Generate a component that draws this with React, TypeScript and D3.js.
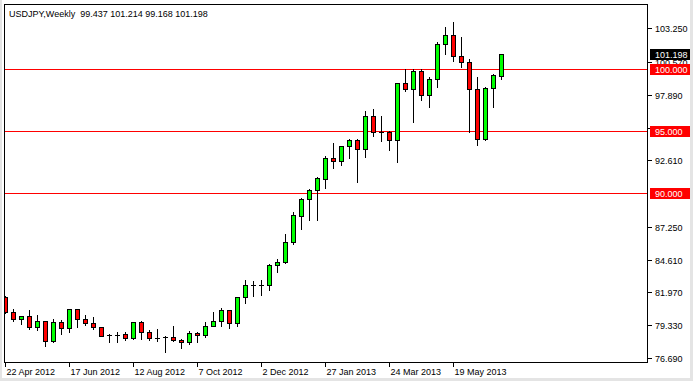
import React, { useEffect } from 'react';
import * as d3 from 'd3';

const W = 693;
const H = 381;

const symbolTitle = 'USDJPY,Weekly';
const startWeek = new Date(2012, 3, 22);

const opens = [81.61, 80.40, 79.84, 80.08, 79.20, 79.68, 78.09, 79.60, 79.11, 80.64, 79.84, 79.52, 79.20, 78.52, 78.53, 78.63, 78.28, 79.60, 78.82, 78.30, 78.39, 78.39, 78.17, 77.99, 78.74, 78.55, 79.28, 79.68, 80.56, 79.52, 81.61, 82.53, 82.55, 82.54, 84.15, 84.39, 86.00, 88.17, 89.49, 90.22, 91.15, 92.79, 92.57, 93.78, 94.26, 93.52, 96.19, 94.89, 94.88, 94.29, 98.85, 98.39, 99.81, 97.86, 99.15, 101.99, 102.71, 101.05, 100.51, 98.34, 94.32, 98.42, 99.437];
const highs = [81.71, 80.64, 80.10, 80.59, 80.18, 79.70, 79.84, 79.78, 80.66, 80.66, 80.18, 80.00, 79.22, 78.66, 78.79, 78.79, 79.62, 79.70, 78.92, 79.03, 78.50, 79.30, 78.25, 78.90, 78.76, 79.57, 80.40, 80.72, 80.58, 81.63, 82.94, 82.86, 82.94, 84.26, 84.69, 86.70, 88.45, 89.62, 90.27, 91.31, 93.00, 94.05, 93.79, 94.34, 94.34, 96.60, 96.76, 96.19, 95.01, 98.86, 99.95, 99.95, 99.95, 99.33, 102.17, 103.38, 103.78, 102.57, 100.76, 99.36, 98.50, 99.57, 101.214];
const lows = [80.35, 79.65, 79.44, 79.03, 78.98, 77.63, 77.99, 78.66, 78.79, 79.20, 79.36, 79.03, 78.44, 77.99, 77.99, 78.12, 78.20, 78.25, 78.17, 78.04, 77.15, 78.04, 77.51, 77.83, 77.99, 78.42, 79.26, 79.26, 79.11, 79.26, 81.13, 81.66, 81.74, 82.14, 83.59, 84.31, 85.84, 87.08, 87.83, 87.83, 90.35, 91.99, 92.20, 92.79, 90.83, 92.90, 94.59, 94.21, 93.46, 92.52, 98.23, 95.74, 97.48, 96.92, 98.55, 101.21, 100.62, 100.16, 94.93, 93.81, 94.24, 96.94, 99.168];
const closes = [80.40, 79.84, 80.08, 79.20, 79.68, 78.09, 79.60, 79.11, 80.64, 79.84, 79.52, 79.16, 78.50, 78.48, 78.57, 78.28, 79.60, 78.82, 78.28, 78.32, 78.28, 78.12, 77.99, 78.74, 78.55, 79.28, 79.68, 80.56, 79.52, 81.61, 82.60, 82.55, 82.53, 84.21, 84.42, 86.03, 88.23, 89.49, 90.22, 91.18, 92.79, 92.55, 93.78, 94.26, 93.52, 96.19, 94.88, 94.87, 94.29, 98.85, 98.39, 99.81, 97.86, 99.15, 101.99, 102.71, 101.05, 100.51, 98.34, 94.32, 98.42, 99.47, 101.198];

const xTickLabels = ['22 Apr 2012', '17 Jun 2012', '12 Aug 2012', '7 Oct 2012', '2 Dec 2012', '27 Jan 2013', '24 Mar 2013', '19 May 2013'];
const xTickEvery = 8;
const yTicks = [103.25, 100.57, 97.89, 95.25, 92.61, 87.25, 84.61, 81.97, 79.33, 76.69];
const levelLines = [100, 95, 90];

const FONT = '"Liberation Sans", Arial, sans-serif';

export default function App() {
  useEffect(() => {
    document.body.style.margin = '0';
    document.body.style.background = '#ffffff';
  }, []);

  const plotL = 4, plotR = 648, plotT = 4, plotB = 362;
  const n = opens.length;
  const dates = d3.range(n).map((i) => d3.timeWeek.offset(startWeek, i));

  const x = d3.scaleLinear().domain([0, n - 1]).range([5.5, 5.5 + 8 * (n - 1)]);
  const y = d3.scaleLinear().domain([76.371, 105.207]).range([plotB, plotT]);
  const fmt = d3.format('.3f');
  const snap = (v: number) => Math.round(v) + 0.5;

  const lastClose = closes[n - 1];

  return (
    <svg width={W} height={H} style={{ display: 'block', fontFamily: FONT }}>
      <defs>
        <clipPath id="plotClip">
          <rect x={plotL} y={plotT} width={plotR - plotL} height={plotB - plotT} />
        </clipPath>
      </defs>
      <rect x={0} y={0} width={W} height={H} fill="#ffffff" />
      <rect x={0} y={0} width={2} height={H} fill="#e4e4e4" />
      <rect x={0} y={378} width={W} height={3} fill="#e4e4e4" />
      <rect x={690} y={0} width={3} height={H} fill="#e4e4e4" />

      <g clipPath="url(#plotClip)">
        {levelLines.map((lv) => (
          <rect key={'lvl' + lv} x={plotL} y={Math.round(y(lv))} width={plotR - plotL} height={1} fill="#ff0000" shapeRendering="crispEdges" />
        ))}
        {dates.map((d, i) => {
          const cx = x(i);
          const o = opens[i], c = closes[i], hi = highs[i], lo = lows[i];
          const top = Math.round(y(Math.max(o, c)));
          const bot = Math.round(y(Math.min(o, c)));
          const up = c >= o;
          const hTop = Math.round(y(hi));
          const lBot = Math.round(y(lo));
          return (
            <g key={'c' + i}>
              <line x1={cx} x2={cx} y1={hTop} y2={lBot + 1} stroke="#000" strokeWidth={1} />
              {bot - top < 2 ? (
                <line x1={cx - 2.5} x2={cx + 2.5} y1={top + 0.5} y2={top + 0.5} stroke="#000" strokeWidth={1} />
              ) : (
                <rect x={cx - 2} y={top + 0.5} width={4} height={bot - top} fill={up ? '#00ff00' : '#ff0000'} stroke="#000" strokeWidth={1} />
              )}
            </g>
          );
        })}
      </g>

      <rect x={plotL + 0.5} y={plotT + 0.5} width={plotR - plotL - 1} height={plotB - plotT} fill="none" stroke="#000" strokeWidth={1} />

      <text x={9} y={17} fontSize={9} fill="#000">
        {symbolTitle}{'\u00a0\u00a0'}{`${fmt(opens[n - 1])} ${fmt(highs[n - 1])} ${fmt(lows[n - 1])} ${fmt(lastClose)}`}
      </text>

      {yTicks.map((t) => {
        const yy = snap(y(t));
        return (
          <g key={'yt' + t}>
            <line x1={plotR} x2={plotR + 4} y1={yy} y2={yy} stroke="#000" />
            <text x={655} y={yy} dy="0.35em" fontSize={9} fill="#000">{fmt(t)}</text>
          </g>
        );
      })}
      {levelLines.map((lv) => {
        const yy = snap(y(lv));
        return (
          <g key={'lb' + lv}>
            <rect x={650} y={yy - 5.5} width={40} height={11} fill="#ff0000" />
            <text x={655} y={yy} dy="0.35em" fontSize={9} fill="#ffffff">{fmt(lv)}</text>
          </g>
        );
      })}
      {(() => {
        const yy = snap(y(lastClose));
        return (
          <g>
            <rect x={650} y={yy - 5.5} width={40} height={11} fill="#000000" />
            <text x={655} y={yy} dy="0.35em" fontSize={9} fill="#ffffff">{fmt(lastClose)}</text>
          </g>
        );
      })()}

      {xTickLabels.map((lab, k) => {
        const tx = Math.round(x(k * xTickEvery) - 0.5) + 0.5;
        return (
          <g key={lab}>
            <line x1={tx} x2={tx} y1={plotB} y2={plotB + 5} stroke="#000" />
            <text x={tx + 1} y={375} fontSize={9} fill="#000">{lab}</text>
          </g>
        );
      })}
    </svg>
  );
}
